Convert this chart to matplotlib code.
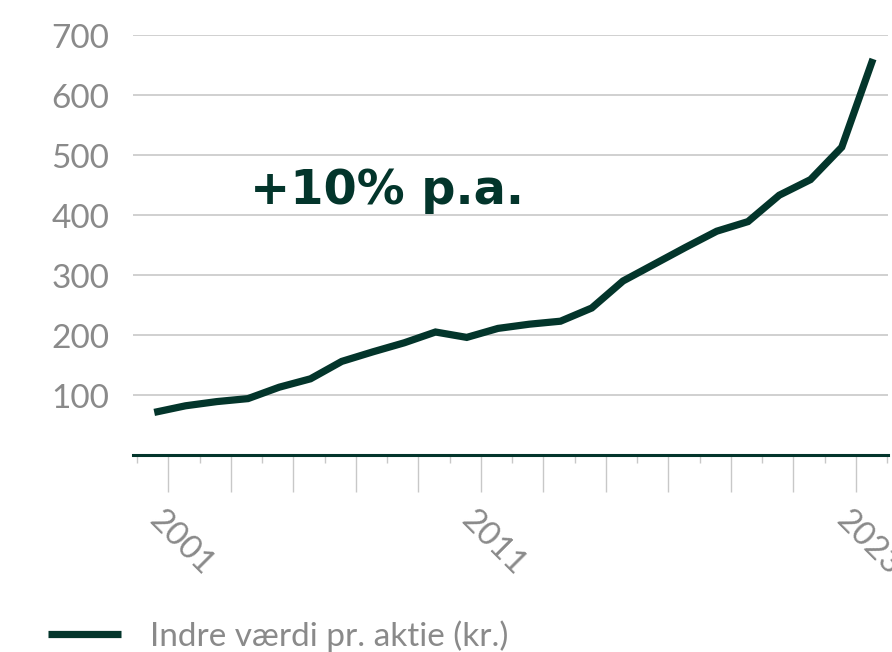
import numpy as np
import matplotlib.pyplot as plt
import matplotlib.transforms as mtransforms

# data: book value per share, one point per year
years = np.arange(2000, 2024)
values = [71, 82, 89, 94, 113, 127, 156, 172, 187, 205, 196, 211,
          218, 223, 245, 290, 318, 346, 373, 389, 433, 459, 513, 660]
y_ticks = [100, 200, 300, 400, 500, 600, 700]
x_labels = {2001: "2001", 2011: "2011", 2023: "2023"}
series_label = "Indre værdi pr. aktie (kr.)"
note = "+10% p.a."

green = "#03352b"
grey_txt = "#8a8a8a"
grey_line = "#c8c8c8"

plt.rcParams['font.family'] = ['Lato', 'DejaVu Sans']

fig = plt.figure(figsize=(8.92, 6.52), dpi=100)
ax = fig.add_axes([133/892, 1 - 455/652, (888-133)/892, (455-35)/652])

x = years + 0.55  # points sit mid-year
line, = ax.plot(x, values, color=green, lw=5.2, solid_joinstyle='miter',
                solid_capstyle='butt', label=series_label, zorder=3)

ax.set_xlim(1999.87, 2024.03)
ax.set_ylim(0, 700)

# y axis
ax.set_yticks(y_ticks)
ax.set_yticklabels([str(v) for v in y_ticks])
ax.yaxis.grid(True, color=grey_line, lw=1.2)
ax.set_axisbelow(True)
ax.tick_params(axis='y', length=0, pad=17, labelsize=24, labelcolor=grey_txt)
for t in ax.get_yticklabels():
    t.set_va('center')
    t.set_transform(t.get_transform() + mtransforms.ScaledTranslation(0, -0.04, fig.dpi_scale_trans))

# x axis
major = np.arange(2001, 2024, 2)
minor = np.arange(2000, 2025, 2)
ax.set_xticks(major)
ax.set_xticklabels([x_labels.get(y, "") for y in major])
ax.set_xticks(minor, minor=True)
ax.tick_params(axis='x', which='major', length=26.6, width=1, color=grey_line,
               pad=21.6, labelsize=24, labelcolor=grey_txt)
ax.tick_params(axis='x', which='minor', length=5.8, width=1, color=grey_line)
shift = mtransforms.ScaledTranslation(-0.21, 0, fig.dpi_scale_trans)
for t in ax.get_xticklabels():
    t.set_rotation(-45)
    t.set_rotation_mode('anchor')
    t.set_ha('left')
    t.set_va('baseline')
    t.set_transform(t.get_transform() + shift)

for s in ['top', 'right', 'left']:
    ax.spines[s].set_visible(False)
ax.spines['bottom'].set_color(green)
ax.spines['bottom'].set_linewidth(2.2)

# annotation
ax.text(2003.6, 418, note, fontsize=34.5, fontweight='bold', color=green,
        ha='left', va='baseline', family=['DejaVu Sans'])

# legend
fig.legend(handles=[line], loc='center left', bbox_to_anchor=(48/892, 16/652),
           frameon=False, borderpad=0, borderaxespad=0, handlelength=2.2,
           handletextpad=0.85, prop={'size': 24}, labelcolor=grey_txt)

fig.savefig("out.png", dpi=100)
